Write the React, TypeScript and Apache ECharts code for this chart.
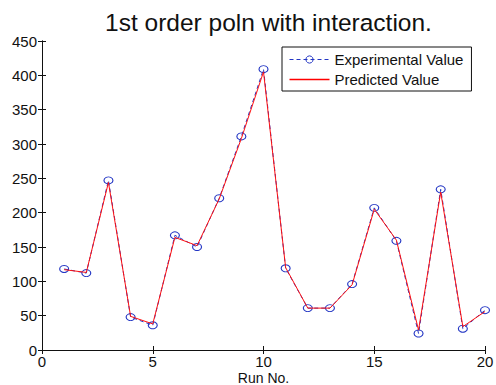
import React, { useEffect, useRef } from "react";
import * as echarts from "echarts";

const runNo = [1, 2, 3, 4, 5, 6, 7, 8, 9, 10, 11, 12, 13, 14, 15, 16, 17, 18, 19, 20];
const experimental = [118, 112, 247, 48, 36, 167, 150, 221, 311, 409, 119, 61, 61, 96, 207, 159, 24, 234, 31, 58];
const predicted = [117, 113, 244, 49, 38, 164, 152, 220, 308, 405, 120, 61, 61, 95, 205, 160, 29, 230, 34, 56];
const xTicks = { min: 0, max: 20, interval: 5 };
const yTicks = { min: 0, max: 450, interval: 50 };

const BLUE = "#2336c4";
const RED = "#ff1010";
const FONT = "Liberation Sans, Arial, sans-serif";

export default function App() {
  const ref = useRef<HTMLDivElement>(null);
  useEffect(() => {
    if (!ref.current) return;
    const chart = echarts.init(ref.current, undefined, { renderer: "svg" });
    const axisLine = { show: true, lineStyle: { color: "#111", width: 1 } };
    const tick = { show: true, inside: true, length: 4, lineStyle: { color: "#111" } };
    chart.setOption({
      animation: false,
      backgroundColor: "#fff",
      title: {
        text: "1st order poln with interaction.",
        left: 263.5,
        textAlign: "center",
        top: 5,
        textStyle: { fontFamily: FONT, fontSize: 24.5, fontWeight: "normal", color: "#111" },
      },
      legend: {
        left: 282,
        top: 47,
        orient: "vertical",
        itemWidth: 40,
        itemHeight: 9,
        itemGap: 5,
        padding: [5, 8, 4, 7],
        borderColor: "#111",
        borderWidth: 1,
        backgroundColor: "#fff",
        symbolKeepAspect: true,
        textStyle: { fontFamily: FONT, fontSize: 15, color: "#111", lineHeight: 14 },
        data: [
          {
            name: "Experimental Value",
            itemStyle: { borderWidth: 1, borderColor: BLUE, color: "rgba(0,0,0,0)" },
            lineStyle: { width: 1, color: BLUE, type: [4, 3] },
          },
          {
            name: "Predicted Value",
            icon: "path://M0,0h40v1.5h-40z",
            itemStyle: { color: "#ff0000", borderColor: "#ff0000", borderWidth: 0 },
          },
        ],
      },
      grid: { left: 42, right: 11, top: 41, bottom: 35, outerBoundsMode: "none", containLabel: false },
      xAxis: [
        {
          type: "value",
          ...xTicks,
          position: "bottom",
          name: "Run No.",
          nameLocation: "middle",
          nameGap: 21,
          nameMoveOverlap: false,
          nameTextStyle: { fontFamily: FONT, fontSize: 14, color: "#111", verticalAlign: "top", lineHeight: 14 },
          axisLine,
          axisTick: tick,
          splitLine: { show: false },
          axisLabel: { fontFamily: FONT, fontSize: 15, color: "#111", margin: 4 },
        },
        {
          type: "value",
          ...xTicks,
          position: "top",
          axisLine,
          axisTick: tick,
          splitLine: { show: false },
          axisLabel: { show: false },
        },
      ],
      yAxis: [
        {
          type: "value",
          ...yTicks,
          position: "left",
          axisLine,
          axisTick: tick,
          splitLine: { show: false },
          axisLabel: { fontFamily: FONT, fontSize: 15, color: "#111", margin: 5 },
        },
        {
          type: "value",
          ...yTicks,
          position: "right",
          axisLine,
          axisTick: tick,
          splitLine: { show: false },
          axisLabel: { show: false },
        },
      ],
      series: [
        {
          name: "Experimental Value",
          type: "line",
          xAxisIndex: 0,
          yAxisIndex: 0,
          data: runNo.map((x, i) => [x, experimental[i]]),
          symbol: "circle",
          symbolSize: [9, 7],
          showAllSymbol: true,
          lineStyle: { color: BLUE, width: 1, type: [4, 3] },
          itemStyle: { color: "rgba(0,0,0,0)", borderColor: BLUE, borderWidth: 1 },
          z: 2,
        },
        {
          name: "Predicted Value",
          type: "line",
          xAxisIndex: 0,
          yAxisIndex: 0,
          data: runNo.map((x, i) => [x, predicted[i]]),
          symbol: "none",
          lineStyle: { color: RED, width: 1 },
          itemStyle: { color: RED },
          z: 3,
        },
      ],
    });
    return () => chart.dispose();
  }, []);
  return (
    <div
      ref={ref}
      style={{ position: "fixed", left: 0, top: 0, width: 496, height: 385, background: "#fff" }}
    />
  );
}
